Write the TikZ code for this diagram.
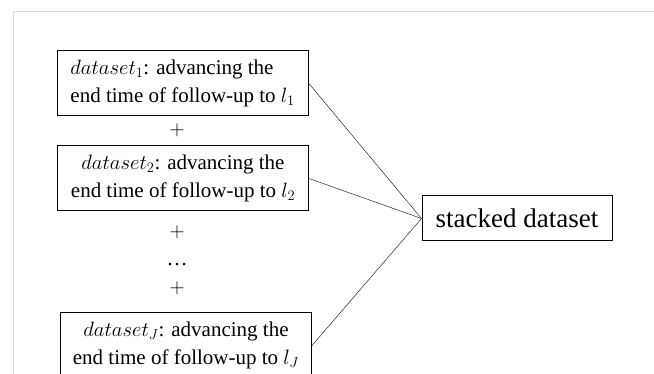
\documentclass[tikz,border=0pt]{standalone}
\usepackage{fontspec}
\setmainfont{Liberation Serif}

\begin{document}
\begin{tikzpicture}[x=1pt, y=-1pt,
    databox/.style={draw, line width=1pt, minimum width=251pt, minimum height=65pt, inner sep=2pt, align=center, font=\fontsize{21}{28}\selectfont},
    stackbox/.style={draw, line width=1pt, minimum width=190pt, minimum height=45pt, inner sep=2pt, font=\fontsize{27}{30}\selectfont},
    plus/.style={font=\fontsize{21}{25}\selectfont}]
    \useasboundingbox (0, 0) rectangle (654, 374);
    \draw[black!15, line width=1pt] (13, 374) -- (13, 11.5) -- (654, 11.5);

    \node[databox, align=left] (set1) at (182.5, 83) {$dataset_1$: advancing the\\end time of follow-up to $l_1$};
    \node[databox] (set2) at (183, 178.5) {$dataset_2$: advancing the\\end time of follow-up to $l_2$};
    \node[databox] (setJ) at (186, 345.5) {$dataset_J$: advancing the\\end time of follow-up to $l_J$};
    \node[plus] (p1) at (177, 130) {$+$};
    \node[plus] (p2) at (177, 232) {$+$};
    \node[plus] (dots) at (177, 265) {\dots};
    \node[plus] (p3) at (177, 288) {$+$};
    \node[stackbox] (stack) at (517, 218.5) {stacked dataset};

    \draw[line width=0.5pt, black!85]
    (set1.east) edge (stack.west)
    (set2.east) edge (stack.west)
    (setJ.east) edge (stack.west);
\end{tikzpicture}
\end{document}
